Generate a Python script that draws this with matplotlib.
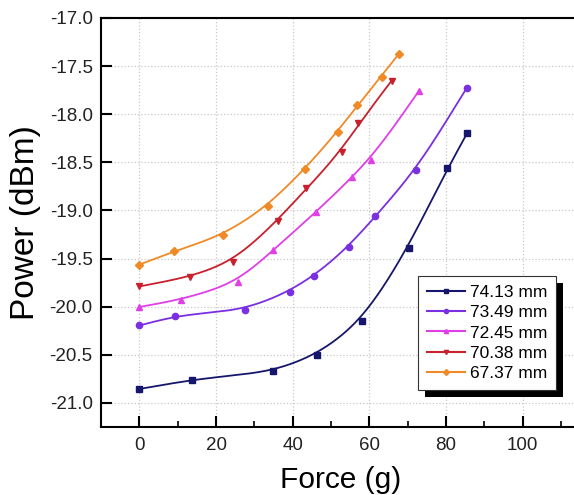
import numpy as np
import matplotlib
matplotlib.use("Agg")
import matplotlib.pyplot as plt
import matplotlib.patheffects as pe
from matplotlib.ticker import MultipleLocator, FormatStrFormatter

plt.rcParams['font.family'] = ['Liberation Sans', 'DejaVu Sans']

# Force (g) / power (dBm)
labels = ['74.13 mm', '73.49 mm', '72.45 mm', '70.38 mm', '67.37 mm']
colors = ['#16166c', '#7a2fe0', '#e03ee6', '#c8202c', '#f08a26']
markers = ['s', 'o', '^', 'v', 'D']

x_74 = [0, 13.7, 34.9, 46.4, 58.1, 70.2, 80.3, 85.4]
y_74 = [-20.855, -20.76, -20.67, -20.50, -20.153, -19.39, -18.555, -18.198]

x_73 = [0, 9.3, 27.5, 39.3, 45.6, 54.8, 61.5, 72.2, 85.4]
y_73 = [-20.195, -20.094, -20.03, -19.844, -19.684, -19.38, -19.06, -18.583, -17.726]

x_72 = [0, 10.9, 25.8, 34.8, 46.1, 55.5, 60.4, 72.8]
y_72 = [-20.003, -19.927, -19.747, -19.414, -19.018, -18.653, -18.476, -17.764]

x_70 = [0, 13.2, 24.5, 36.1, 43.5, 52.9, 57.1, 65.8]
y_70 = [-19.79, -19.69, -19.534, -19.107, -18.77, -18.396, -18.094, -17.65]

x_67 = [0, 9.1, 21.7, 33.6, 43.2, 51.9, 56.7, 63.2, 67.7]
y_67 = [-19.5625, -19.424, -19.26, -18.955, -18.566, -18.184, -17.906, -17.61, -17.375]

xs = [x_74, x_73, x_72, x_70, x_67]
ys = [y_74, y_73, y_72, y_70, y_67]


def smooth_curve(x, y, sigma=5.0, n=400):
    # piecewise linear through the points, then gaussian smoothing
    # (ends extended along the end slopes so the curve keeps its direction)
    x = np.asarray(x, float)
    y = np.asarray(y, float)
    xf = np.linspace(x[0], x[-1], n)
    dx = xf[1] - xf[0]
    pad = int(4 * sigma / dx)
    xl = xf[0] - dx * np.arange(pad, 0, -1)
    xr = xf[-1] + dx * np.arange(1, pad + 1)
    s0 = (y[1] - y[0]) / (x[1] - x[0])
    s1 = (y[-1] - y[-2]) / (x[-1] - x[-2])
    yall = np.concatenate([y[0] + s0 * (xl - x[0]),
                           np.interp(xf, x, y),
                           y[-1] + s1 * (xr - x[-1])])
    k = np.arange(-pad, pad + 1) * dx
    w = np.exp(-0.5 * (k / sigma) ** 2)
    w /= w.sum()
    ys_ = np.convolve(yall, w, mode='same')[pad:pad + n]
    return xf, ys_


fig = plt.figure(figsize=(5.74, 4.95), dpi=100)
ax = fig.add_axes([0.176, 0.1374, 0.835, 0.8263])

for x, y, c, m, lab in zip(xs, ys, colors, markers, labels):
    xf, yf = smooth_curve(x, y)
    ax.plot(xf, yf, color=c, lw=1.3, zorder=2)
    ax.plot(x, y, ls='none', marker=m, color=c, ms=4.5, zorder=3)
    # legend proxy
    ax.plot([], [], color=c, marker=m, ms=3, lw=1.5, label=lab)

ax.set_xlim(-10, 115)
ax.set_ylim(-21.25, -17.0)
ax.xaxis.set_major_locator(MultipleLocator(20))
ax.xaxis.set_minor_locator(MultipleLocator(10))
ax.yaxis.set_major_locator(MultipleLocator(0.5))
ax.yaxis.set_major_formatter(FormatStrFormatter('%.1f'))

ax.tick_params(direction='in', length=8, width=1.5, labelsize=13.5, pad=7,
               labelcolor='#222222')
ax.tick_params(axis='y', pad=6)
ax.tick_params(which='minor', direction='in', length=4, width=1.2)
ax.tick_params(axis='x', which='both', top=False)
for s in ax.spines.values():
    s.set_linewidth(1.5)

ax.grid(True, which='major', ls=':', color='#c8c8c8', lw=0.9)
ax.set_axisbelow(True)

ax.set_xlabel('Force (g)', fontsize=21.5, labelpad=9)
ax.set_ylabel('Power (dBm)', fontsize=24, labelpad=6)

leg = ax.legend(loc='lower left', bbox_to_anchor=(0.661, 0.0905), fontsize=12.5,
                fancybox=False, framealpha=1, edgecolor='#333333',
                handlelength=2.2, handletextpad=0.3, labelspacing=0.3,
                borderpad=0.5, borderaxespad=0)
leg.get_frame().set_linewidth(0.8)
leg.get_frame().set_path_effects([pe.withSimplePatchShadow(offset=(5, -5), shadow_rgbFace='k', alpha=1)])

fig.savefig('out.png', dpi=100)
